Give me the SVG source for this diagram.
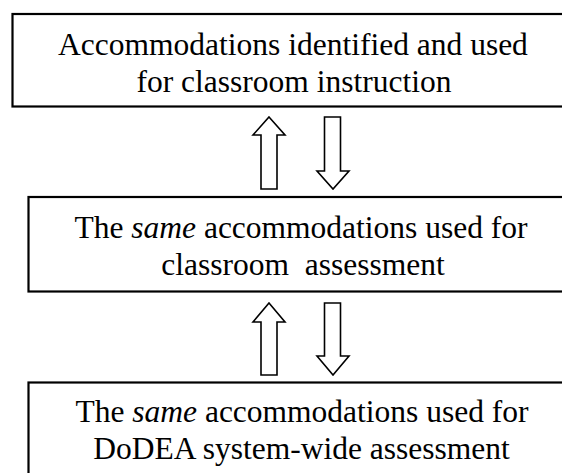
<svg xmlns="http://www.w3.org/2000/svg" width="562" height="473" viewBox="0 0 562 473">
<style>
.box{fill:#fff;stroke:#000;stroke-width:2.2}
.arr{fill:#fff;stroke:#000;stroke-width:1.6;stroke-linejoin:miter}
text{font-family:"Liberation Serif","Times New Roman",serif;font-size:31.5px;fill:#000;text-anchor:middle}
</style>
<rect width="562" height="473" fill="#fff"/>
<g id="node1">
<rect class="box" x="12.5" y="14" width="570" height="92.5"/>
<text x="293" y="55">Accommodations identified and used</text>
<text x="294" y="92">for classroom instruction</text>
</g>
<g id="node2">
<rect class="box" x="28.5" y="197" width="560" height="94.5"/>
<text x="301" y="238">The <tspan font-style="italic">same</tspan> accommodations used for</text>
<text x="303" y="275" xml:space="preserve">classroom  assessment</text>
</g>
<g id="node3">
<rect class="box" x="28.5" y="382.5" width="560" height="120"/>
<text x="302" y="422">The <tspan font-style="italic">same</tspan> accommodations used for</text>
<text x="301.5" y="459">DoDEA system-wide assessment</text>
</g>
<g id="connectors">
<polygon class="arr" points="269,117 285,135 277,135 277,189 261,189 261,135 253,135"/>
<polygon class="arr" points="324.5,117 340.5,117 340.5,171 349,171 333,189 317,171 324.5,171"/>
<polygon class="arr" points="269,303 285,322 277,322 277,375 261,375 261,322 253,322"/>
<polygon class="arr" points="324.5,303 340.5,303 340.5,356 349,356 333,375 317,356 324.5,356"/>
</g>
</svg>
